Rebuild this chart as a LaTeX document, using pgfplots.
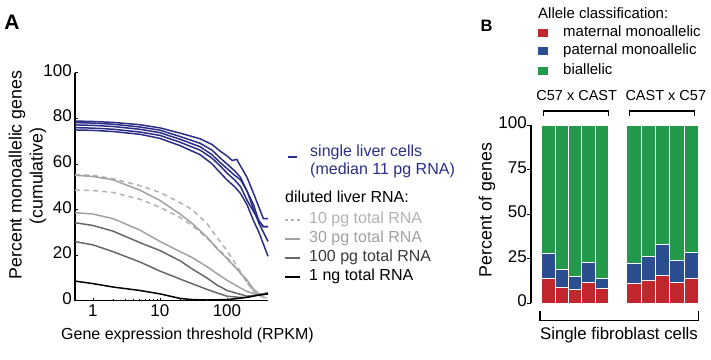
\documentclass[border=0pt]{standalone}
\usepackage{fontspec}
\setmainfont{Liberation Sans}
\usepackage{pgfplots}
\pgfplotsset{compat=1.18}

\definecolor{cblue}{HTML}{2B2E86}
\definecolor{dgrey}{HTML}{B2B2B2}
\definecolor{lgrey}{HTML}{A2A2A2}
\definecolor{mgrey}{HTML}{686868}
\definecolor{tgrey}{HTML}{3A3A3A}
\definecolor{cred}{HTML}{C1272D}
\definecolor{cbl}{HTML}{2B4E90}
\definecolor{cgr}{HTML}{23994B}

\newcommand{\fs}[1]{\fontsize{#1}{#1}\selectfont}
\tikzset{lab/.style={inner sep=0pt, text height=0.72em, text depth=0pt}}

\begin{document}
\begin{tikzpicture}[x=1pt,y=-1pt]
\path[use as bounding box] (0,0) rectangle (711,359);

% ---------------- Panel A ----------------
\node[lab, font=\fs{21}\bfseries] at (12,25.5) {A};
\node[lab, font=\fs{17.8}, rotate=90] at (18,175) {Percent monoallelic genes};
\node[lab, font=\fs{17.8}, rotate=90] at (39,176) {(cumulative)};
\node[lab, font=\fs{16}] at (187.5,336) {Gene expression threshold (RPKM)};

\begin{axis}[
  at={(75pt,-300.7pt)}, anchor=south west, scale only axis,
  width=193pt, height=228pt,
  xmode=log, xmin=0.54, xmax=410, ymin=0, ymax=100,
  axis x line*=bottom, axis y line*=left,
  every outer x axis line/.append style={-},
  every outer y axis line/.append style={-},
  axis line style={line width=1.3pt, black},
  xtick={1,10,100}, xticklabels={1,10,100},
  ytick={0,20,40,60,80,100},
  tick align=inside, major tick length=3pt, minor tick length=1.5pt,
  tick style={black, line width=0.6pt},
  /pgf/number format/assume math mode=true,
  ticklabel style={font=\fs{17}, inner sep=0pt, text height=0.72em, text depth=0pt},
  xticklabel style={anchor=north, yshift=-8pt},
  yticklabel style={anchor=east, xshift=-3pt},
  clip=false,
]
% single liver cells
\addplot[cblue, line width=1.5pt] coordinates {(0.54,78.8)(1,78.6)(2,78.2)(5,77.2)(10,75.8)(20,73.5)(40,71)(60,68.5)(80,65.5)(100,63.5)(120,61.5)(140,62)(160,59)(200,54)(250,47)(300,41)(350,36)(410,36)};
\addplot[cblue, line width=1.5pt] coordinates {(0.54,78.1)(1,77.9)(2,77.4)(5,76.2)(10,74.8)(20,72)(40,69)(60,66)(80,62.5)(100,60)(130,57)(160,54)(200,48)(250,42)(300,35)(350,32.5)(410,32.5)};
\addplot[cblue, line width=1.5pt] coordinates {(0.54,77.1)(1,76.9)(2,76.4)(5,75.2)(10,73.7)(20,70.8)(40,67.5)(60,64)(80,60.5)(100,58)(130,55)(160,53)(200,48)(250,40)(300,34)(410,26)};
\addplot[cblue, line width=1.5pt] coordinates {(0.54,75.9)(1,75.7)(2,75.2)(5,74)(10,72.5)(20,69.5)(40,66)(60,62.5)(80,59)(100,56)(130,53)(160,50)(200,44)(250,39)(300,35)(350,32.5)(410,32.5)};
\addplot[cblue, line width=1.5pt] coordinates {(0.54,74.9)(1,74.7)(2,74.2)(5,73)(10,71.2)(20,68)(40,64)(60,60)(80,56)(100,53)(130,50)(160,47)(200,42)(250,35)(300,30)(410,19.5)};
% 10 pg (dashed)
\addplot[dgrey, line width=1.5pt, dash pattern=on 5pt off 4pt] coordinates {(0.54,55.3)(1,55)(2,53.5)(5,50.5)(10,47.5)(20,43)(30,40)(50,34)(70,28)(100,22)(150,14)(200,8)(250,4)(300,2)(410,2)};
\addplot[dgrey, line width=1.5pt, dash pattern=on 5pt off 4pt] coordinates {(0.54,48.5)(1,48.3)(2,47.5)(5,44.5)(10,41)(20,36.5)(30,33)(50,27.5)(70,23.5)(100,19)(150,13)(200,8)(250,4)(300,2)(410,1)};
% 30 pg
\addplot[lgrey, line width=1.5pt] coordinates {(0.54,55)(1,54.5)(2,53)(5,48.5)(10,44)(20,38)(30,34)(50,28)(70,23)(100,18.5)(150,13)(200,9)(250,5)(300,3)(410,3)};
\addplot[lgrey, line width=1.5pt] coordinates {(0.54,38.6)(1,38)(2,36)(5,31)(10,26)(20,21.5)(30,19)(50,15)(70,12)(100,9)(150,6)(200,4)(300,2.5)(410,3.5)};
% 100 pg
\addplot[mgrey, line width=1.5pt] coordinates {(0.54,34.2)(1,33)(2,30.5)(5,25.5)(10,22)(20,17.5)(30,14)(50,10)(70,7)(100,4.5)(150,3)(200,2)(300,2.5)(410,3)};
\addplot[mgrey, line width=1.5pt] coordinates {(0.54,25.9)(1,24.5)(2,21.5)(5,17)(10,13)(20,9.5)(30,7.5)(50,5)(70,3.5)(100,2)(150,1.5)(200,1.5)(300,2.5)(410,3.5)};
% 1 ng
\addplot[black, line width=1.5pt] coordinates {(0.54,8.6)(1,7.5)(2,6)(5,4.5)(10,3)(20,1)(30,0.5)(50,0.3)(100,0.5)(150,1)(200,1.5)(300,2.5)(410,3)};
\end{axis}

% legend A
\draw[cblue, line width=1.5pt] (288,157) -- (297,157);
\node[lab, font=\fs{16}, text=cblue, anchor=west] at (310,152.7) {single liver cells};
\node[lab, font=\fs{16}, text=cblue, anchor=west] at (310,170.7) {(median 11 pg RNA)};
\node[lab, font=\fs{16}, anchor=west] at (285,199) {diluted liver RNA:};
\draw[dgrey, line width=1.5pt, dash pattern=on 3pt off 3pt] (285,220) -- (300,220);
\node[lab, font=\fs{16}, text=dgrey, anchor=west] at (309,220) {10 pg total RNA};
\draw[lgrey, line width=1.5pt] (285,239) -- (300,239);
\node[lab, font=\fs{16}, text=lgrey, anchor=west] at (309,239) {30 pg total RNA};
\draw[mgrey, line width=1.5pt] (285,258) -- (300,258);
\node[lab, font=\fs{16}, text=tgrey, anchor=west] at (309,258) {100 pg total RNA};
\draw[black, line width=1.5pt] (285,277) -- (300,277);
\node[lab, font=\fs{16}, anchor=west] at (309,277) {1 ng total RNA};

% ---------------- Panel B ----------------
\node[lab, font=\fs{16.5}\bfseries] at (486.5,27.5) {B};
\node[lab, font=\fs{15}, anchor=west] at (538,15) {Allele classification:};
\fill[cred] (538,29) rectangle (548,37);
\fill[cbl] (538,47) rectangle (548,55);
\fill[cgr] (538,67) rectangle (548,75);
\node[lab, font=\fs{15}, anchor=west] at (563,33) {maternal monoallelic};
\node[lab, font=\fs{15}, anchor=west] at (563,51) {paternal monoallelic};
\node[lab, font=\fs{15}, anchor=west] at (563,71) {biallelic};

\node[lab, font=\fs{14.5}] at (576.7,96.7) {C57 x CAST};
\node[lab, font=\fs{14.5}] at (665.8,96.7) {CAST x C57};
\draw[line width=1.2pt] (543.3,116) -- (543.3,111) -- (608.3,111) -- (608.3,116);
\draw[line width=1.2pt] (629.3,116) -- (629.3,111) -- (694.3,111) -- (694.3,116);

\node[lab, font=\fs{17.8}, rotate=90] at (488,210) {Percent of genes};

\begin{axis}[
  at={(531pt,-303.3pt)}, anchor=south west, scale only axis,
  width=169pt, height=178.3pt,
  xmin=531, xmax=700, ymin=0, ymax=100,
  axis x line=none, axis y line*=left,
  every outer y axis line/.append style={-},
  axis line style={line width=1.2pt, black},
  ytick={0,25,50,75,100},
  tick align=outside, major tick length=4pt,
  tick style={black, line width=1pt},
  /pgf/number format/assume math mode=true,
  ticklabel style={font=\fs{17}, inner sep=0pt, text height=0.72em, text depth=0pt},
  yticklabel style={anchor=east, xshift=0pt},
  clip=false,
]
\addplot[ybar, bar width=13.33, bar shift=0pt, fill=cgr, draw=white, line width=0.8pt] coordinates {(548.4,100)(561.7,100)(575.0,100)(588.3,100)(601.6,100)};
\addplot[ybar, bar width=13.33, bar shift=0pt, fill=cbl, draw=white, line width=0.8pt] coordinates {(548.4,28.2)(561.7,19.0)(575.0,15.2)(588.3,23.1)(601.6,13.9)};
\addplot[ybar, bar width=13.33, bar shift=0pt, fill=cred, draw=white, line width=0.8pt] coordinates {(548.4,13.7)(561.7,8.8)(575.0,7.9)(588.3,11.7)(601.6,8.1)};
\addplot[ybar, bar width=14.33, bar shift=0pt, fill=cgr, draw=white, line width=0.8pt] coordinates {(633.9,100)(648.2,100)(662.5,100)(676.8,100)(691.1,100)};
\addplot[ybar, bar width=14.33, bar shift=0pt, fill=cbl, draw=white, line width=0.8pt] coordinates {(633.9,22.2)(648.2,26.1)(662.5,33.1)(676.8,24.2)(691.1,28.4)};
\addplot[ybar, bar width=14.33, bar shift=0pt, fill=cred, draw=white, line width=0.8pt] coordinates {(633.9,11.1)(648.2,12.6)(662.5,15.8)(676.8,11.7)(691.1,13.7)};
\end{axis}

\draw[line width=1.2pt] (540,310.7) -- (540,320.7) -- (698.3,320.7) -- (698.3,310.7);
\node[lab, font=\fs{16.8}] at (619,336) {Single fibroblast cells};
\end{tikzpicture}
\end{document}
